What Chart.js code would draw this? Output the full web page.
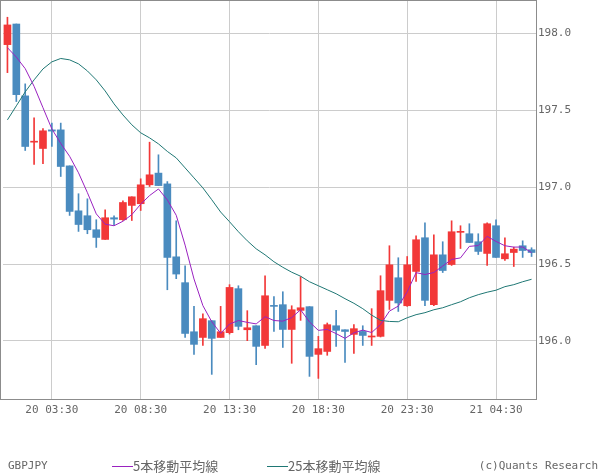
<!DOCTYPE html>
<html>
<head>
<meta charset="utf-8">
<script src="https://cdn.jsdelivr.net/npm/chart.js@4.4.1/dist/chart.umd.min.js"></script>
<style>
  html, body { margin: 0; padding: 0; background: #fff; }
  #wrap { width: 600px; height: 475px; }
</style>
</head>
<body>
<div id="wrap"><canvas id="chart" width="600" height="475"></canvas></div>
<script>
// 30分足 GBPJPY
const times = [
    '20 01:00', '20 01:30', '20 02:00', '20 02:30', '20 03:00', '20 03:30', '20 04:00', '20 04:30', '20 05:00', '20 05:30',
    '20 06:00', '20 06:30', '20 07:00', '20 07:30', '20 08:00', '20 08:30', '20 09:00', '20 09:30', '20 10:00', '20 10:30',
    '20 11:00', '20 11:30', '20 12:00', '20 12:30', '20 13:00', '20 13:30', '20 14:00', '20 14:30', '20 15:00', '20 15:30',
    '20 16:00', '20 16:30', '20 17:00', '20 17:30', '20 18:00', '20 18:30', '20 19:00', '20 19:30', '20 20:00', '20 20:30',
    '20 21:00', '20 21:30', '20 22:00', '20 22:30', '20 23:00', '20 23:30', '21 00:00', '21 00:30', '21 01:00', '21 01:30',
    '21 02:00', '21 02:30', '21 03:00', '21 03:30', '21 04:00', '21 04:30', '21 05:00', '21 05:30', '21 06:00', '21 06:30'
]

const open = [
    197.926, 198.060, 197.593, 197.292, 197.251, 197.372, 197.372, 197.138, 196.846, 196.814,
    196.723, 196.660, 196.801, 196.788, 196.881, 196.892, 197.015, 197.091, 197.021, 196.547,
    196.379, 196.060, 196.023, 196.132, 196.023, 196.054, 196.340, 196.073, 196.099, 195.971,
    196.229, 196.236, 196.075, 196.199, 196.223, 195.913, 195.932, 196.099, 196.073, 196.043,
    196.062, 196.026, 196.030, 196.264, 196.411, 196.229, 196.452, 196.671, 196.236, 196.560,
    196.497, 196.706, 196.697, 196.645, 196.569, 196.749, 196.534, 196.575, 196.619, 196.593
]
const high = [
    198.104, 198.060, 197.671, 197.450, 197.381, 197.416, 197.416, 197.138, 196.957, 196.924,
    196.788, 196.853, 196.814, 196.911, 196.937, 197.054, 197.292, 197.210, 197.036, 196.781,
    196.489, 196.225, 196.177, 196.132, 196.225, 196.366, 196.359, 196.197, 196.099, 196.424,
    196.288, 196.320, 196.229, 196.418, 196.223, 196.030, 196.117, 196.199, 196.073, 196.106,
    196.099, 196.210, 196.424, 196.619, 196.541, 196.549, 196.684, 196.768, 196.690, 196.645,
    196.781, 196.749, 196.762, 196.697, 196.768, 196.788, 196.671, 196.610, 196.651, 196.606
]
const low = [
    197.744, 197.556, 197.238, 197.147, 197.153, 197.264, 197.069, 196.816, 196.712, 196.697,
    196.608, 196.660, 196.755, 196.783, 196.783, 196.848, 197.004, 197.010, 196.333, 196.405,
    196.023, 195.913, 195.971, 195.783, 196.023, 196.045, 196.073, 196.002, 195.846, 195.952,
    196.062, 195.958, 195.855, 196.134, 195.770, 195.757, 195.907, 195.965, 195.861, 195.919,
    195.971, 195.971, 196.026, 196.205, 196.192, 196.225, 196.387, 196.229, 196.229, 196.445,
    196.491, 196.601, 196.640, 196.562, 196.491, 196.543, 196.523, 196.484, 196.543, 196.549
]
const close = [
    198.054, 197.601, 197.264, 197.294, 197.366, 197.364, 197.134, 196.842, 196.757, 196.723,
    196.673, 196.801, 196.792, 196.900, 196.937, 197.015, 197.080, 197.010, 196.543, 196.435,
    196.049, 195.978, 196.145, 196.017, 196.060, 196.348, 196.095, 196.086, 195.965, 196.294,
    196.225, 196.075, 196.203, 196.216, 195.900, 195.950, 196.106, 196.069, 196.062, 196.080,
    196.036, 196.030, 196.327, 196.495, 196.247, 196.495, 196.658, 196.264, 196.560, 196.458,
    196.710, 196.708, 196.640, 196.582, 196.762, 196.543, 196.567, 196.597, 196.588, 196.575
]

// 5本移動平均線
const ma5 = [
    197.906, 197.845, 197.770, 197.655, 197.516, 197.378, 197.284, 197.200, 197.093, 196.964,
    196.826, 196.759, 196.749, 196.778, 196.821, 196.889, 196.945, 196.988, 196.917, 196.817,
    196.623, 196.403, 196.230, 196.125, 196.050, 196.110, 196.133, 196.121, 196.111, 196.158,
    196.133, 196.129, 196.152, 196.203, 196.124, 196.069, 196.075, 196.048, 196.017, 196.053,
    196.071, 196.055, 196.107, 196.194, 196.227, 196.319, 196.444, 196.432, 196.445, 196.487,
    196.530, 196.540, 196.615, 196.620, 196.680, 196.647, 196.619, 196.610, 196.611, 196.574
]
// 25本移動平均線
const ma25 = [
    197.437, 197.528, 197.619, 197.697, 197.768, 197.814, 197.836, 197.827, 197.801, 197.755,
    197.697, 197.625, 197.541, 197.469, 197.405, 197.353, 197.320, 197.281, 197.232, 197.190,
    197.125, 197.060, 196.995, 196.918, 196.838, 196.775, 196.710, 196.651, 196.599, 196.560,
    196.515, 196.479, 196.447, 196.421, 196.385, 196.359, 196.333, 196.307, 196.275, 196.245,
    196.210, 196.168, 196.134, 196.127, 196.125, 196.151, 196.171, 196.184, 196.203, 196.216,
    196.236, 196.255, 196.281, 196.301, 196.317, 196.330, 196.353, 196.366, 196.385, 196.401
]

const yTicks = [196.0, 196.5, 197.0, 197.5, 198.0]

const UP = '#f23838'
const DOWN = '#4a8bbf'
const MA5_COLOR = '#9a22c0'
const MA25_COLOR = '#1f7774'
const TEXT = '#666'
const MONO = "'DejaVu Sans Mono', monospace"

const candleColor = (ctx) => close[ctx.dataIndex] >= open[ctx.dataIndex] ? UP : DOWN

// 枠と凡例
const framePlugin = {
    id: 'frame',
    afterDraw(chart) {
        const c = chart.ctx
        const a = chart.chartArea
        c.save()
        c.strokeStyle = '#8c8c8c'
        c.lineWidth = 1
        c.strokeRect(0.5, a.top + 0.5, a.right, a.bottom - a.top)

        const y = 466
        c.textBaseline = 'middle'
        c.fillStyle = TEXT
        c.font = '11px ' + MONO
        c.textAlign = 'left'
        c.fillText('GBPJPY', 8, y)
        c.textAlign = 'right'
        c.fillText('(c)Quants Research', 598, y)

        c.textAlign = 'left'
        c.font = "13px 'Noto Sans CJK JP'"
        c.beginPath()
        c.strokeStyle = MA5_COLOR
        c.moveTo(112, y + 0.5)
        c.lineTo(133, y + 0.5)
        c.stroke()
        c.fillText('5本移動平均線', 133, y)

        c.beginPath()
        c.strokeStyle = MA25_COLOR
        c.moveTo(267, y + 0.5)
        c.lineTo(288, y + 0.5)
        c.stroke()
        c.fillText('25本移動平均線', 288, y)
        c.restore()
    }
}

new Chart(document.getElementById('chart'), {
    type: 'bar',
    data: {
        labels: times,
        datasets: [
            {
                type: 'line',
                label: '5本移動平均線',
                data: ma5,
                borderColor: MA5_COLOR,
                borderWidth: 1,
                pointRadius: 0,
                tension: 0,
                order: 0
            },
            {
                type: 'line',
                label: '25本移動平均線',
                data: ma25,
                borderColor: MA25_COLOR,
                borderWidth: 1,
                pointRadius: 0,
                tension: 0,
                order: 0
            },
            {
                label: 'body',
                data: open.map((o, i) => [o, close[i]]),
                backgroundColor: candleColor,
                borderWidth: 0,
                barThickness: 7,
                minBarLength: 1,
                grouped: false,
                order: 1
            },
            {
                label: 'wick',
                data: low.map((l, i) => [l, high[i]]),
                backgroundColor: candleColor,
                borderWidth: 0,
                barThickness: 1,
                grouped: false,
                order: 2
            }
        ]
    },
    options: {
        responsive: false,
        animation: false,
        layout: { padding: { left: 3, top: 0, right: 0, bottom: 0 } },
        plugins: {
            legend: { display: false },
            tooltip: { enabled: false }
        },
        scales: {
            x: {
                offset: true,
                afterFit: (s) => {
                    s.height = 76
                    s.paddingLeft = 0
                    s.paddingRight = 0
                },
                border: { display: false },
                grid: {
                    offset: false,
                    drawTicks: false,
                    color: (ctx) => ctx.index % 10 === 5 ? '#cccccc' : 'rgba(0,0,0,0)'
                },
                ticks: {
                    autoSkip: false,
                    maxRotation: 0,
                    minRotation: 0,
                    padding: 5,
                    color: TEXT,
                    font: { family: MONO, size: 11 },
                    callback: (v, i) => i % 10 === 5 ? times[i] : ''
                }
            },
            y: {
                position: 'right',
                min: 195.623,
                max: 198.216,
                afterFit: (s) => {
                    s.width = 64
                    s.paddingTop = 0
                    s.paddingBottom = 0
                },
                afterBuildTicks: (s) => { s.ticks = yTicks.map(v => ({ value: v })) },
                border: { display: false },
                grid: { color: '#cccccc', drawTicks: false },
                ticks: {
                    padding: 2,
                    crossAlign: 'near',
                    color: TEXT,
                    font: { family: MONO, size: 11 },
                    callback: (v) => Number(v).toFixed(1)
                }
            }
        }
    },
    plugins: [framePlugin]
});
</script>
</body>
</html>
